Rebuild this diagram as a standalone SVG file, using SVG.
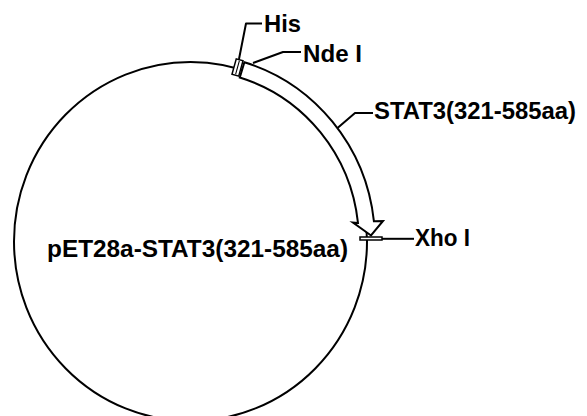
<svg xmlns="http://www.w3.org/2000/svg" width="587" height="416" viewBox="0 0 587 416">
<style>
.ln{fill:none;stroke:#000;stroke-width:2;stroke-linejoin:round}
.sh{fill:#fff;stroke:#000;stroke-width:2;stroke-linejoin:miter}
.tx{font-family:"Liberation Sans",Arial,sans-serif;font-weight:bold;font-size:24px;fill:#000}
</style>
<rect width="587" height="416" fill="#fff"/>
<g id="plasmid">
<ellipse class="ln" cx="190.5" cy="241.5" rx="176.5" ry="179.5"/>
<text class="tx" x="47" y="257" textLength="301" lengthAdjust="spacingAndGlyphs">pET28a-STAT3(321-585aa)</text>
</g>
<g id="stat3">
<path class="sh" d="M244.4 62.2 A184.5 187.5 0 0 1 373.9 221.2 L383 221 L371 235.5 L353 222.5 L358 223 A168.5 171.5 0 0 0 239.8 77.5 Z"/>
<text class="tx" x="374" y="119" textLength="202" lengthAdjust="spacingAndGlyphs">STAT3(321-585aa)</text>
</g>
<g id="his">
<g transform="translate(237.5 67.5) rotate(15.5)">
<rect class="sh" x="-3.5" y="-8" width="7" height="16" style="stroke-width:1.5"/>
<line x1="0" y1="-7" x2="0" y2="7" stroke="#000" stroke-width="1"/>
</g>
<text class="tx" x="264" y="32" textLength="37" lengthAdjust="spacingAndGlyphs">His</text>
</g>
<g id="ndeI">
<text class="tx" x="303" y="61.5" textLength="59" lengthAdjust="spacingAndGlyphs">Nde I</text>
</g>
<g id="xhoI">
<rect class="sh" x="360" y="237" width="22" height="3" style="stroke-width:1.5"/>
<text class="tx" x="415" y="245.5" textLength="55" lengthAdjust="spacingAndGlyphs">Xho I</text>
</g>
<g id="connectors">
<path class="ln" d="M239 59 L246 23.5 L262 23.5"/>
<path class="ln" d="M253 63 L283 52 L301 52"/>
<path class="ln" d="M337.5 128 L355 113 L373 113"/>
<path class="ln" d="M382 238.8 L414 238.8"/>
</g>
</svg>
